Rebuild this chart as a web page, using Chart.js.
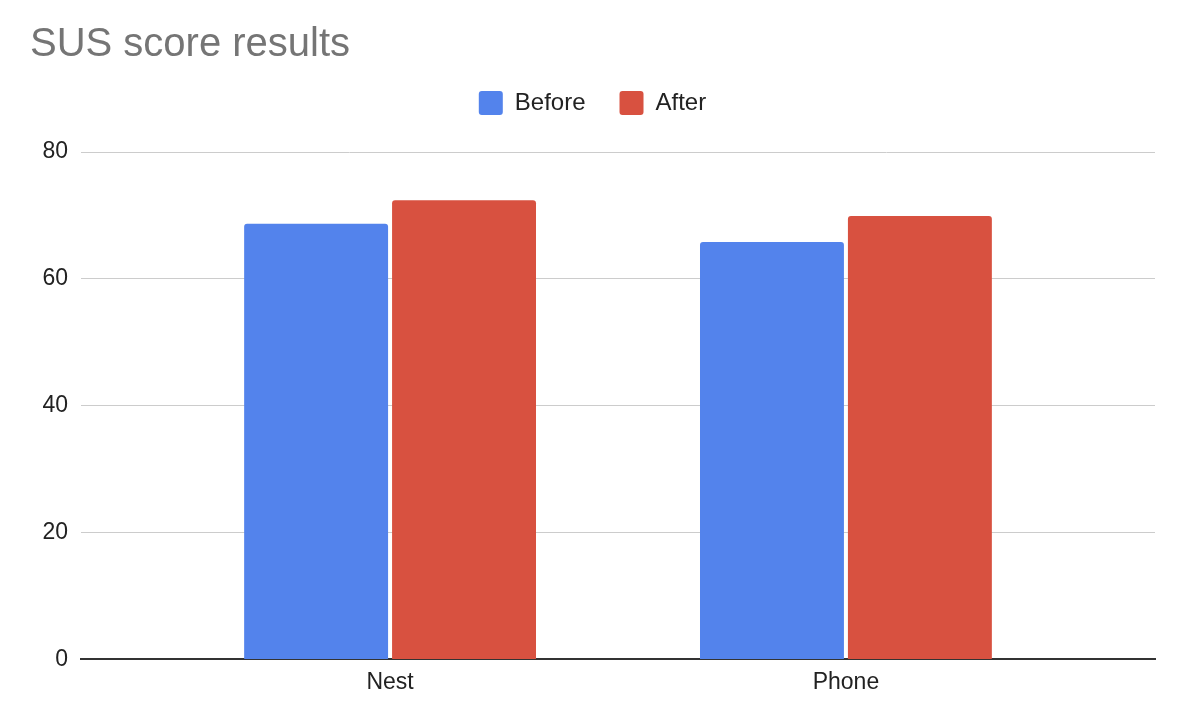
<!DOCTYPE html>
<html>

<head>
    <title>SUS score results</title>
    <script src="https://cdn.jsdelivr.net/npm/chart.js@4.4.0/dist/chart.umd.min.js"></script>
    <style>
        body { margin: 0; background: #fff; }
        #wrap { width: 1180px; height: 722px; }
    </style>
</head>

<body>
    <div id="wrap"><canvas id="barChart"></canvas></div>
    <script>
        const categories = ['Nest', 'Phone'];
        const before = [68.7, 65.8];
        const after = [72.4, 69.9];
        const yTicks = [0, 20, 40, 60, 80];

        const font = '"Liberation Sans", Arial, Helvetica, sans-serif';

        // extra room between the legend and the plot, like the sheets chart
        const legendGap = {
            id: 'legendGap',
            beforeInit(chart) {
                const fit = chart.legend.fit;
                chart.legend.fit = function () {
                    fit.call(this);
                    this.height += 27;
                };
            }
        };

        const ctx = document.getElementById('barChart').getContext('2d');
        const barChart = new Chart(ctx, {
            type: 'bar',
            data: {
                datasets: [{
                    label: 'Before',
                    data: before.map((v, i) => ({ x: i, y: v })),
                    backgroundColor: '#5383ec'
                }, {
                    label: 'After',
                    data: after.map((v, i) => ({ x: i, y: v })),
                    backgroundColor: '#d85140'
                }]
            },
            plugins: [legendGap],
            options: {
                responsive: true,
                maintainAspectRatio: false,
                animation: false,
                devicePixelRatio: 1,
                layout: { padding: { left: 30, right: 25, top: 0, bottom: 17 } },
                datasets: {
                    bar: {
                        categoryPercentage: 0.649,
                        barPercentage: 0.973,
                        borderRadius: { topLeft: 3, topRight: 3, bottomLeft: 0, bottomRight: 0 },
                        borderSkipped: 'start'
                    }
                },
                plugins: {
                    title: {
                        display: true,
                        text: 'SUS score results',
                        align: 'start',
                        color: '#757575',
                        font: { family: font, size: 40, weight: 'normal', lineHeight: 1 },
                        padding: { top: 25, bottom: -8 }
                    },
                    legend: {
                        display: true,
                        labels: {
                            boxWidth: 24,
                            boxHeight: 24,
                            useBorderRadius: true,
                            borderRadius: 3,
                            padding: 34,
                            color: '#222',
                            font: { family: font, size: 24 }
                        }
                    },
                    tooltip: { enabled: false }
                },
                scales: {
                    x: {
                        type: 'linear',
                        offset: false,
                        min: -0.678,
                        max: 1.678,
                        afterBuildTicks: (scale) => {
                            scale.ticks = categories.map((c, i) => ({ value: i }));
                        },
                        ticks: {
                            callback: (v) => categories[v],
                            color: '#222',
                            padding: 9,
                            font: { family: font, size: 23 }
                        },
                        grid: { display: false, drawTicks: false },
                        border: { display: true, color: '#333', width: 2 }
                    },
                    y: {
                        min: 0,
                        max: 80,
                        afterBuildTicks: (scale) => {
                            scale.ticks = yTicks.map(v => ({ value: v }));
                        },
                        afterFit: (scale) => { scale.width = 51; },
                        ticks: {
                            color: '#222',
                            padding: 13,
                            font: { family: font, size: 23 }
                        },
                        grid: { color: '#cccccc', drawTicks: false },
                        border: { display: false }
                    }
                }
            }
        });
    </script>
</body>

</html>
